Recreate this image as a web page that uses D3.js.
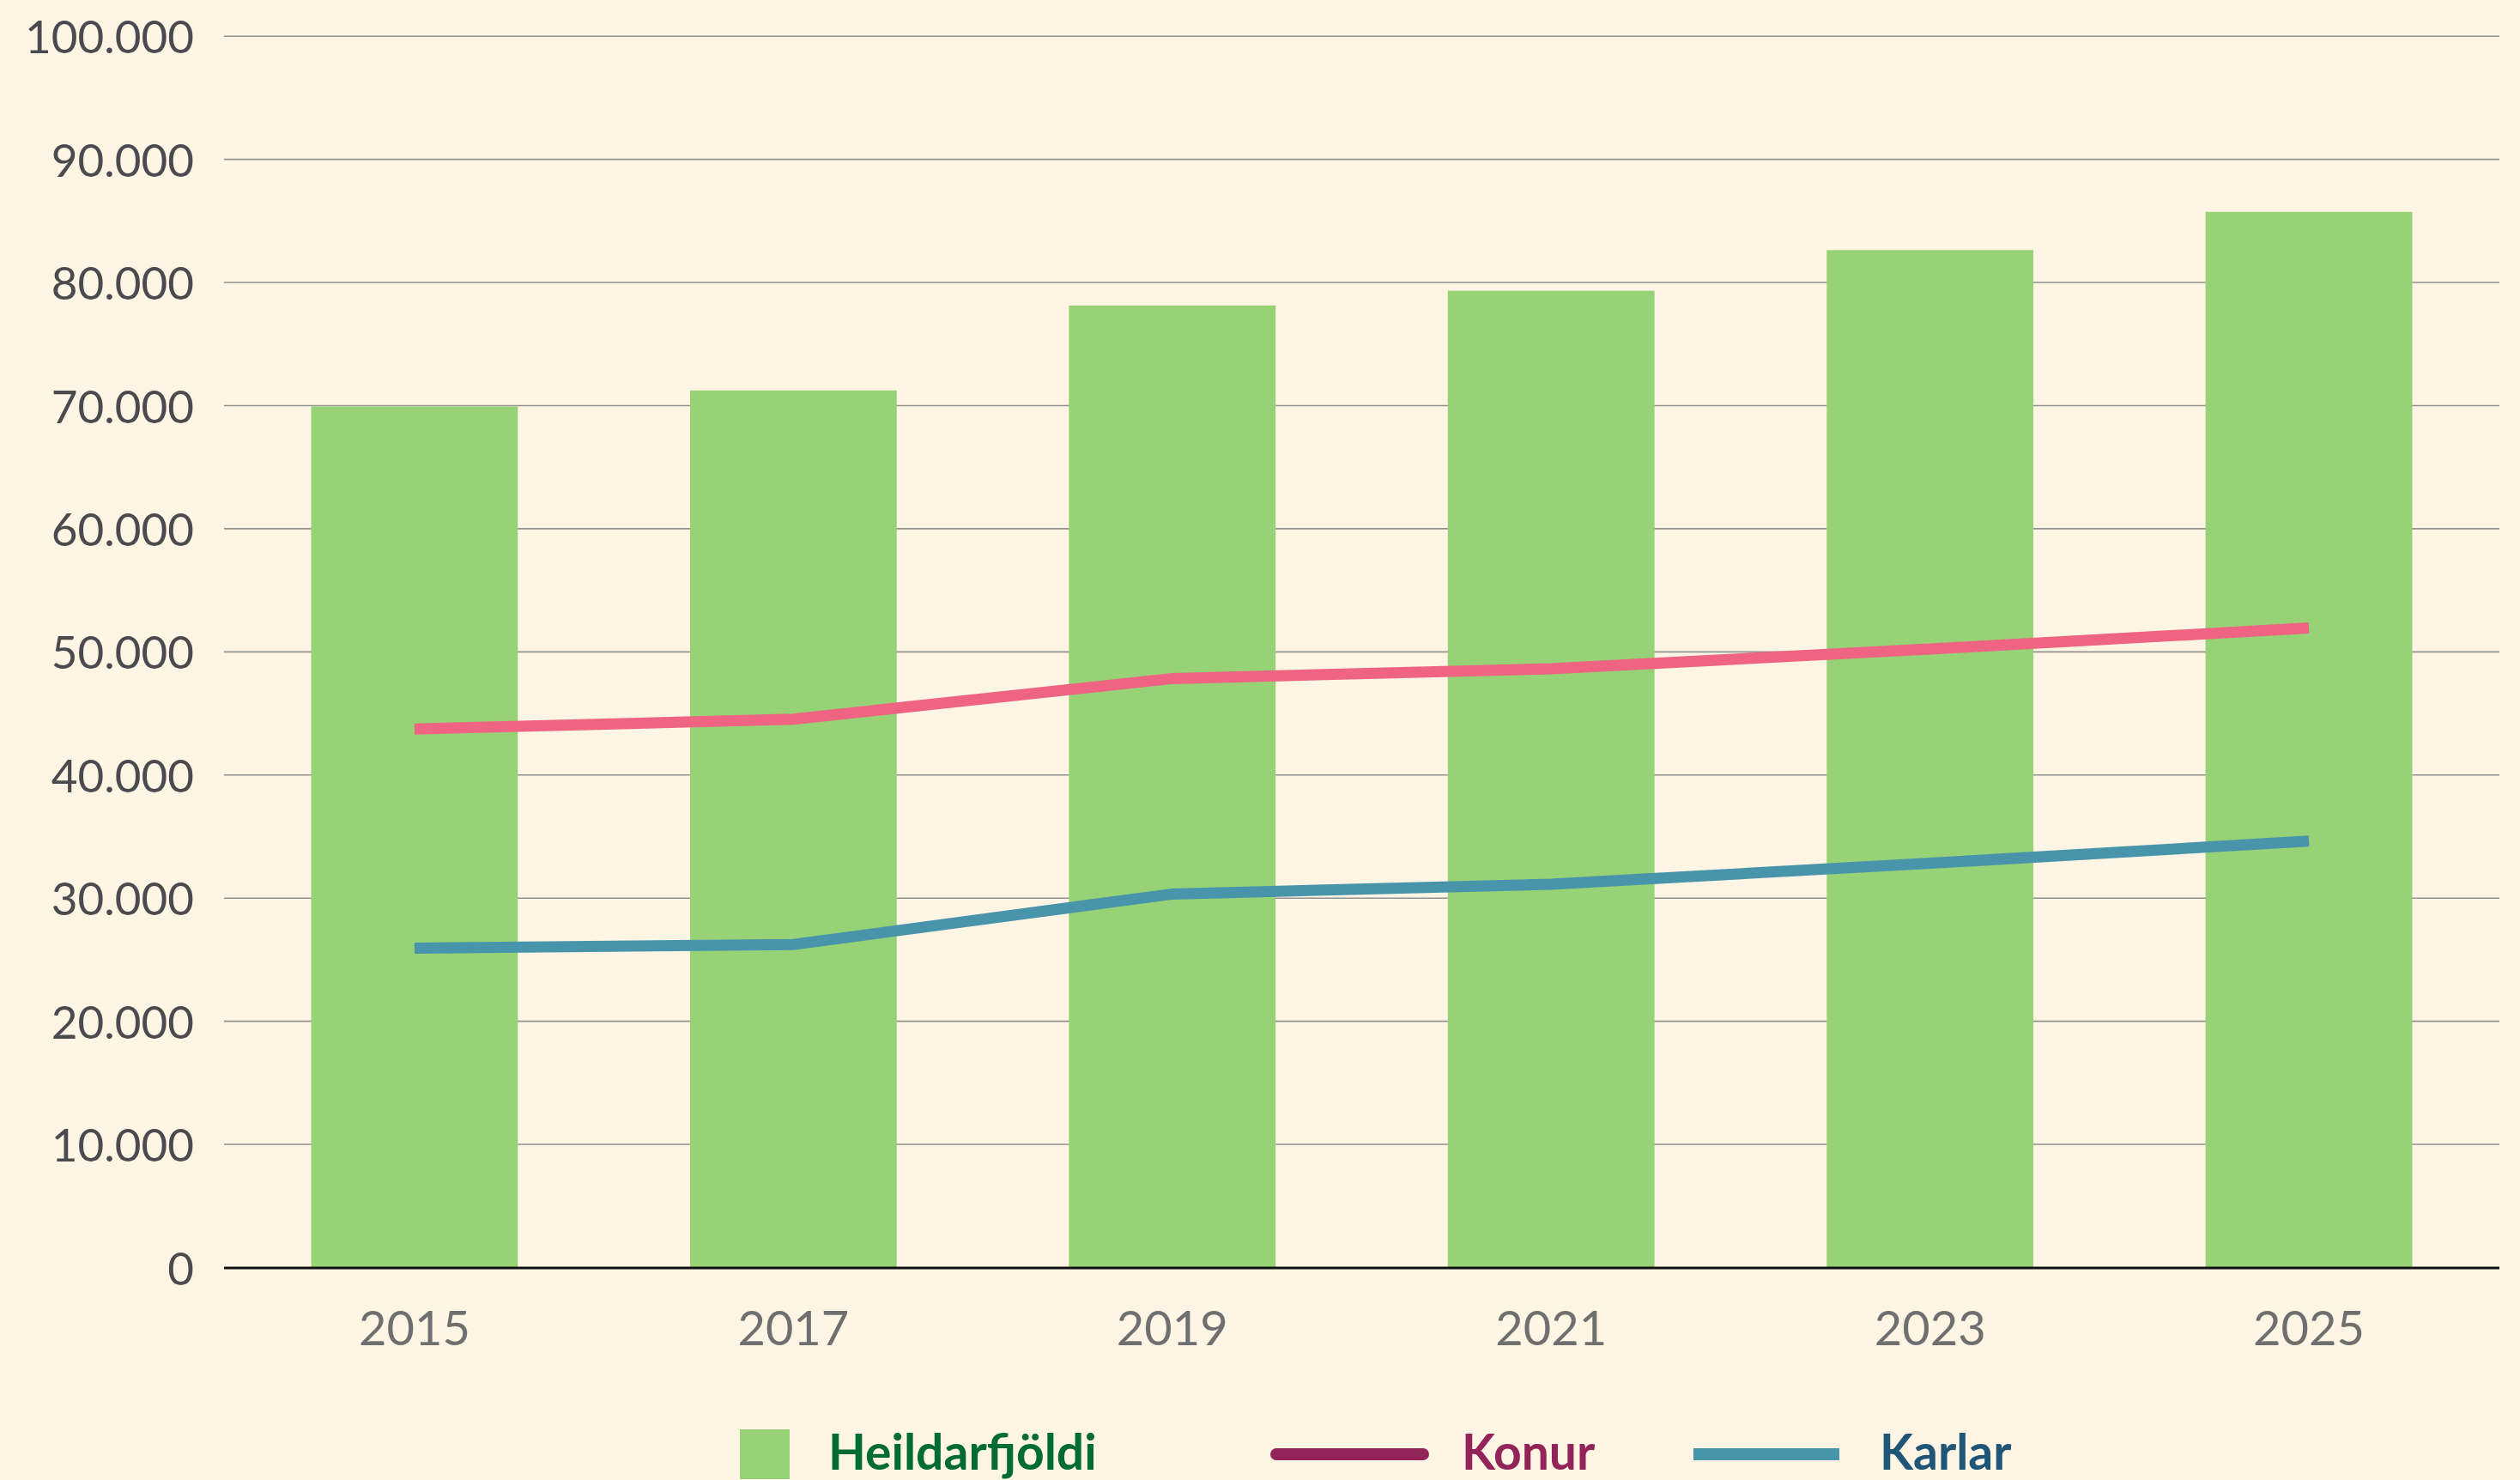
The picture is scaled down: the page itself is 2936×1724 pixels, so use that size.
<!DOCTYPE html>
<html>
<head>
<meta charset="utf-8">
<script src="https://cdn.jsdelivr.net/npm/d3@7"></script>
<style>
  body { margin: 0; background: #fef5e4; }
  svg { display: block; }
</style>
</head>
<body>
<div id="chart"></div>
<script>
// data
var years = ['2015', '2017', '2019', '2021', '2023', '2025'];
var heildarfjoldi = [69900, 71200, 78100, 79300, 82600, 85700];
var konur = [43700, 44500, 47800, 48600, 50200, 51900];
var karlar = [25900, 26200, 30300, 31100, 32800, 34600];
var yTicks = [0, 10000, 20000, 30000, 40000, 50000, 60000, 70000, 80000, 90000, 100000];
var legendLabels = ['Heildarfjöldi', 'Konur', 'Karlar'];

// size
var W = 2936;
var H = 1724;
var plotL = 261;
var plotR = 2912;
var plotT = 41.7;
var plotB = 1476;
var font = 'Lato, sans-serif';

var locale = d3.formatLocale({ decimal: ',', thousands: '.', grouping: [3], currency: ['', ''] });
var fmt = locale.format(',');

var svg = d3
  .select('#chart')
  .append('svg')
  .attr('width', W)
  .attr('height', H)
  .style('font-family', font);

svg.append('rect').attr('width', W).attr('height', H).attr('fill', '#fef5e4');

// scales
var x = d3
  .scaleBand()
  .domain(years)
  .range([plotL, plotR])
  .paddingInner(0.4545)
  .paddingOuter(0.23);
var y = d3.scaleLinear().domain([0, 100000]).range([plotB, plotT]);

// grid: horizontal
var yAxis = d3
  .axisLeft(y)
  .tickValues(yTicks)
  .tickFormat(fmt)
  .tickSize(-(plotR - plotL))
  .tickPadding(35);
var gy = svg
  .append('g')
  .attr('transform', 'translate(' + plotL + ',0)')
  .call(yAxis)
  .attr('font-family', font)
  .attr('font-size', 53);
gy.select('.domain').remove();
gy.selectAll('.tick line')
  .attr('stroke', '#929292')
  .attr('stroke-width', 1.6)
  .attr('visibility', function (d) { return d === 0 ? 'hidden' : 'visible'; });
gy.selectAll('.tick text')
  .attr('fill', '#4b4a4f')
  .attr('dy', '0.38em');

// bars
svg
  .append('g')
  .selectAll('rect')
  .data(heildarfjoldi)
  .join('rect')
  .attr('x', function (d, i) { return x(years[i]); })
  .attr('y', function (d) { return y(d); })
  .attr('width', x.bandwidth())
  .attr('height', function (d) { return plotB - y(d); })
  .attr('fill', '#97d277');

// axis: bottom
var xAxis = d3.axisBottom(x).tickSize(0).tickPadding(0);
var gx = svg
  .append('g')
  .attr('transform', 'translate(0,' + plotB + ')')
  .call(xAxis)
  .attr('font-family', font)
  .attr('font-size', 56);
gx.select('.domain').remove();
gx.selectAll('.tick text')
  .attr('fill', '#6f6f70')
  .attr('y', 90.7)
  .attr('dy', 0);
svg
  .append('line')
  .attr('x1', plotL)
  .attr('x2', plotR)
  .attr('y1', plotB + 1)
  .attr('y2', plotB + 1)
  .attr('stroke', '#111')
  .attr('stroke-width', 3);

// lines
var line = d3
  .line()
  .x(function (d, i) { return x(years[i]) + x.bandwidth() / 2; })
  .y(function (d) { return y(d); });
svg
  .append('path')
  .datum(konur)
  .attr('d', line)
  .attr('fill', 'none')
  .attr('stroke', '#ee6482')
  .attr('stroke-width', 13);
svg
  .append('path')
  .datum(karlar)
  .attr('d', line)
  .attr('fill', 'none')
  .attr('stroke', '#4895ab')
  .attr('stroke-width', 13);

// legend
var lg = svg.append('g').attr('font-weight', 'bold').attr('font-size', 57);
lg.append('rect')
  .attr('x', 862)
  .attr('y', 1665)
  .attr('width', 58)
  .attr('height', 58)
  .attr('fill', '#97d277');
lg.append('text').attr('x', 965).attr('y', 1712).attr('fill', '#006b35').text(legendLabels[0]);
lg.append('line')
  .attr('x1', 1487)
  .attr('x2', 1658)
  .attr('y1', 1694)
  .attr('y2', 1694)
  .attr('stroke', '#93245a')
  .attr('stroke-width', 14)
  .attr('stroke-linecap', 'round');
lg.append('text').attr('x', 1703).attr('y', 1712).attr('fill', '#93245a').text(legendLabels[1]);
lg.append('line')
  .attr('x1', 1973)
  .attr('x2', 2143)
  .attr('y1', 1694)
  .attr('y2', 1694)
  .attr('stroke', '#4895ab')
  .attr('stroke-width', 14);
lg.append('text').attr('x', 2190).attr('y', 1712).attr('fill', '#1f5577').text(legendLabels[2]);
</script>
</body>
</html>
